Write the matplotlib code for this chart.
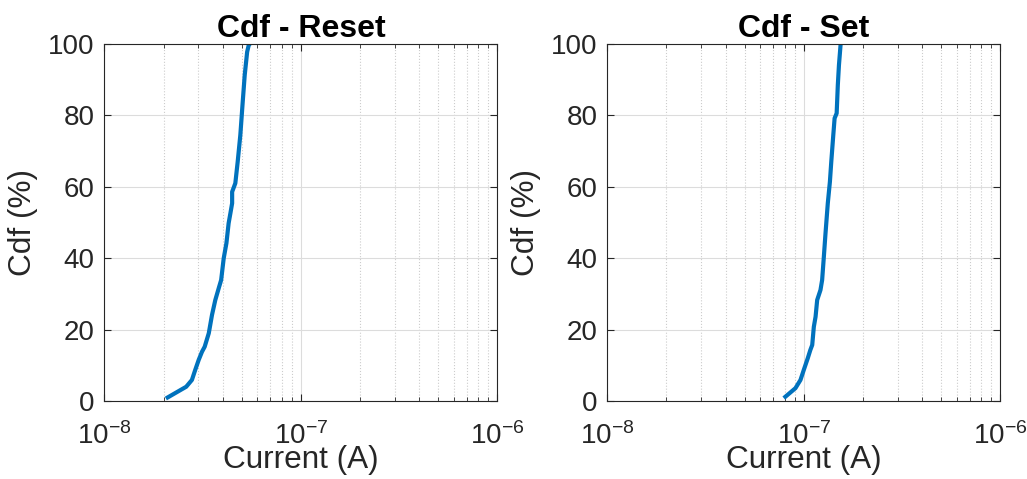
import matplotlib
matplotlib.use("Agg")
import matplotlib.pyplot as plt
import numpy as np
from matplotlib.ticker import LogLocator, NullFormatter

plt.rcParams['font.family'] = ['Liberation Sans', 'DejaVu Sans']
plt.rcParams['mathtext.fontset'] = 'custom'
plt.rcParams['mathtext.rm'] = 'Liberation Sans'
plt.rcParams['mathtext.it'] = 'Liberation Sans:italic'

reset_current = [2.10e-8, 2.61e-8, 2.79e-8, 2.90e-8, 3.02e-8, 3.14e-8, 3.24e-8,
                 3.40e-8, 3.53e-8, 3.67e-8, 3.82e-8, 3.93e-8, 4.05e-8, 4.18e-8,
                 4.29e-8, 4.38e-8, 4.47e-8, 4.47e-8, 4.64e-8, 4.77e-8, 4.92e-8,
                 5.06e-8, 5.18e-8, 5.33e-8, 5.43e-8, 5.49e-8]
reset_cdf = [1.0, 4.0, 5.9, 8.7, 11.5, 13.8, 15.2, 19.0, 24.1, 28.3, 31.6,
             33.9, 40.0, 44.2, 49.8, 52.6, 55.4, 58.6, 61.0, 67.0, 74.5,
             83.8, 91.3, 97.8, 99.7, 100]

set_current = [8.06e-8, 9.07e-8, 9.62e-8, 1.00e-7, 1.048e-7, 1.08e-7, 1.104e-7,
               1.125e-7, 1.148e-7, 1.17e-7, 1.216e-7, 1.24e-7, 1.265e-7,
               1.29e-7, 1.325e-7, 1.358e-7, 1.38e-7, 1.413e-7, 1.435e-7,
               1.47e-7, 1.49e-7, 1.51e-7, 1.54e-7]
set_cdf = [1.2, 3.6, 5.9, 8.7, 12.0, 14.3, 15.7, 20.8, 23.6, 28.3, 31.1,
           33.9, 40.4, 47.0, 55.4, 61.4, 67.0, 74.5, 79.2, 80.6, 88.5,
           94.1, 100]

titles = ['Cdf - Reset', 'Cdf - Set']
xlab = 'Current (A)'
ylab = 'Cdf (%)'

txt = '#262626'
fig = plt.figure(figsize=(10.27, 4.79), dpi=100)
ax1 = fig.add_axes([0.1016, 0.1628, 0.3827, 0.7453])
ax2 = fig.add_axes([0.5913, 0.1628, 0.3827, 0.7453])

for ax, x, y, t in [(ax1, reset_current, reset_cdf, titles[0]),
                    (ax2, set_current, set_cdf, titles[1])]:
    ax.plot(x, y, color='#0072BD', linewidth=3)
    ax.set_xscale('log')
    ax.set_xlim(1e-8, 1e-6)
    ax.set_ylim(0, 100)
    ax.set_yticks([0, 20, 40, 60, 80, 100])
    ax.xaxis.set_minor_locator(LogLocator(base=10, subs=np.arange(2, 10)))
    ax.xaxis.set_minor_formatter(NullFormatter())
    ax.grid(True, which='major', color='#dcdcdc', linewidth=0.8)
    ax.grid(True, which='minor', axis='x', color='#cccccc', linestyle=':', linewidth=0.8)
    ax.set_axisbelow(True)
    ax.tick_params(which='both', direction='in', colors=txt, labelsize=20,
                   top=True, right=True)
    ax.tick_params(which='major', length=5)
    ax.tick_params(which='minor', length=3)
    ax.tick_params(axis='x', pad=15)
    ax.tick_params(axis='y', pad=7)
    for s in ax.spines.values():
        s.set_color(txt)
        s.set_linewidth(0.8)
    ax.set_title(t, fontsize=23, fontweight='bold', color='black', pad=3)
    ax.set_xlabel(xlab, fontsize=22.7, color=txt, labelpad=-3)
    ax.set_ylabel(ylab, fontsize=22.7, color=txt, labelpad=7)

fig.savefig('out.png', dpi=100)
